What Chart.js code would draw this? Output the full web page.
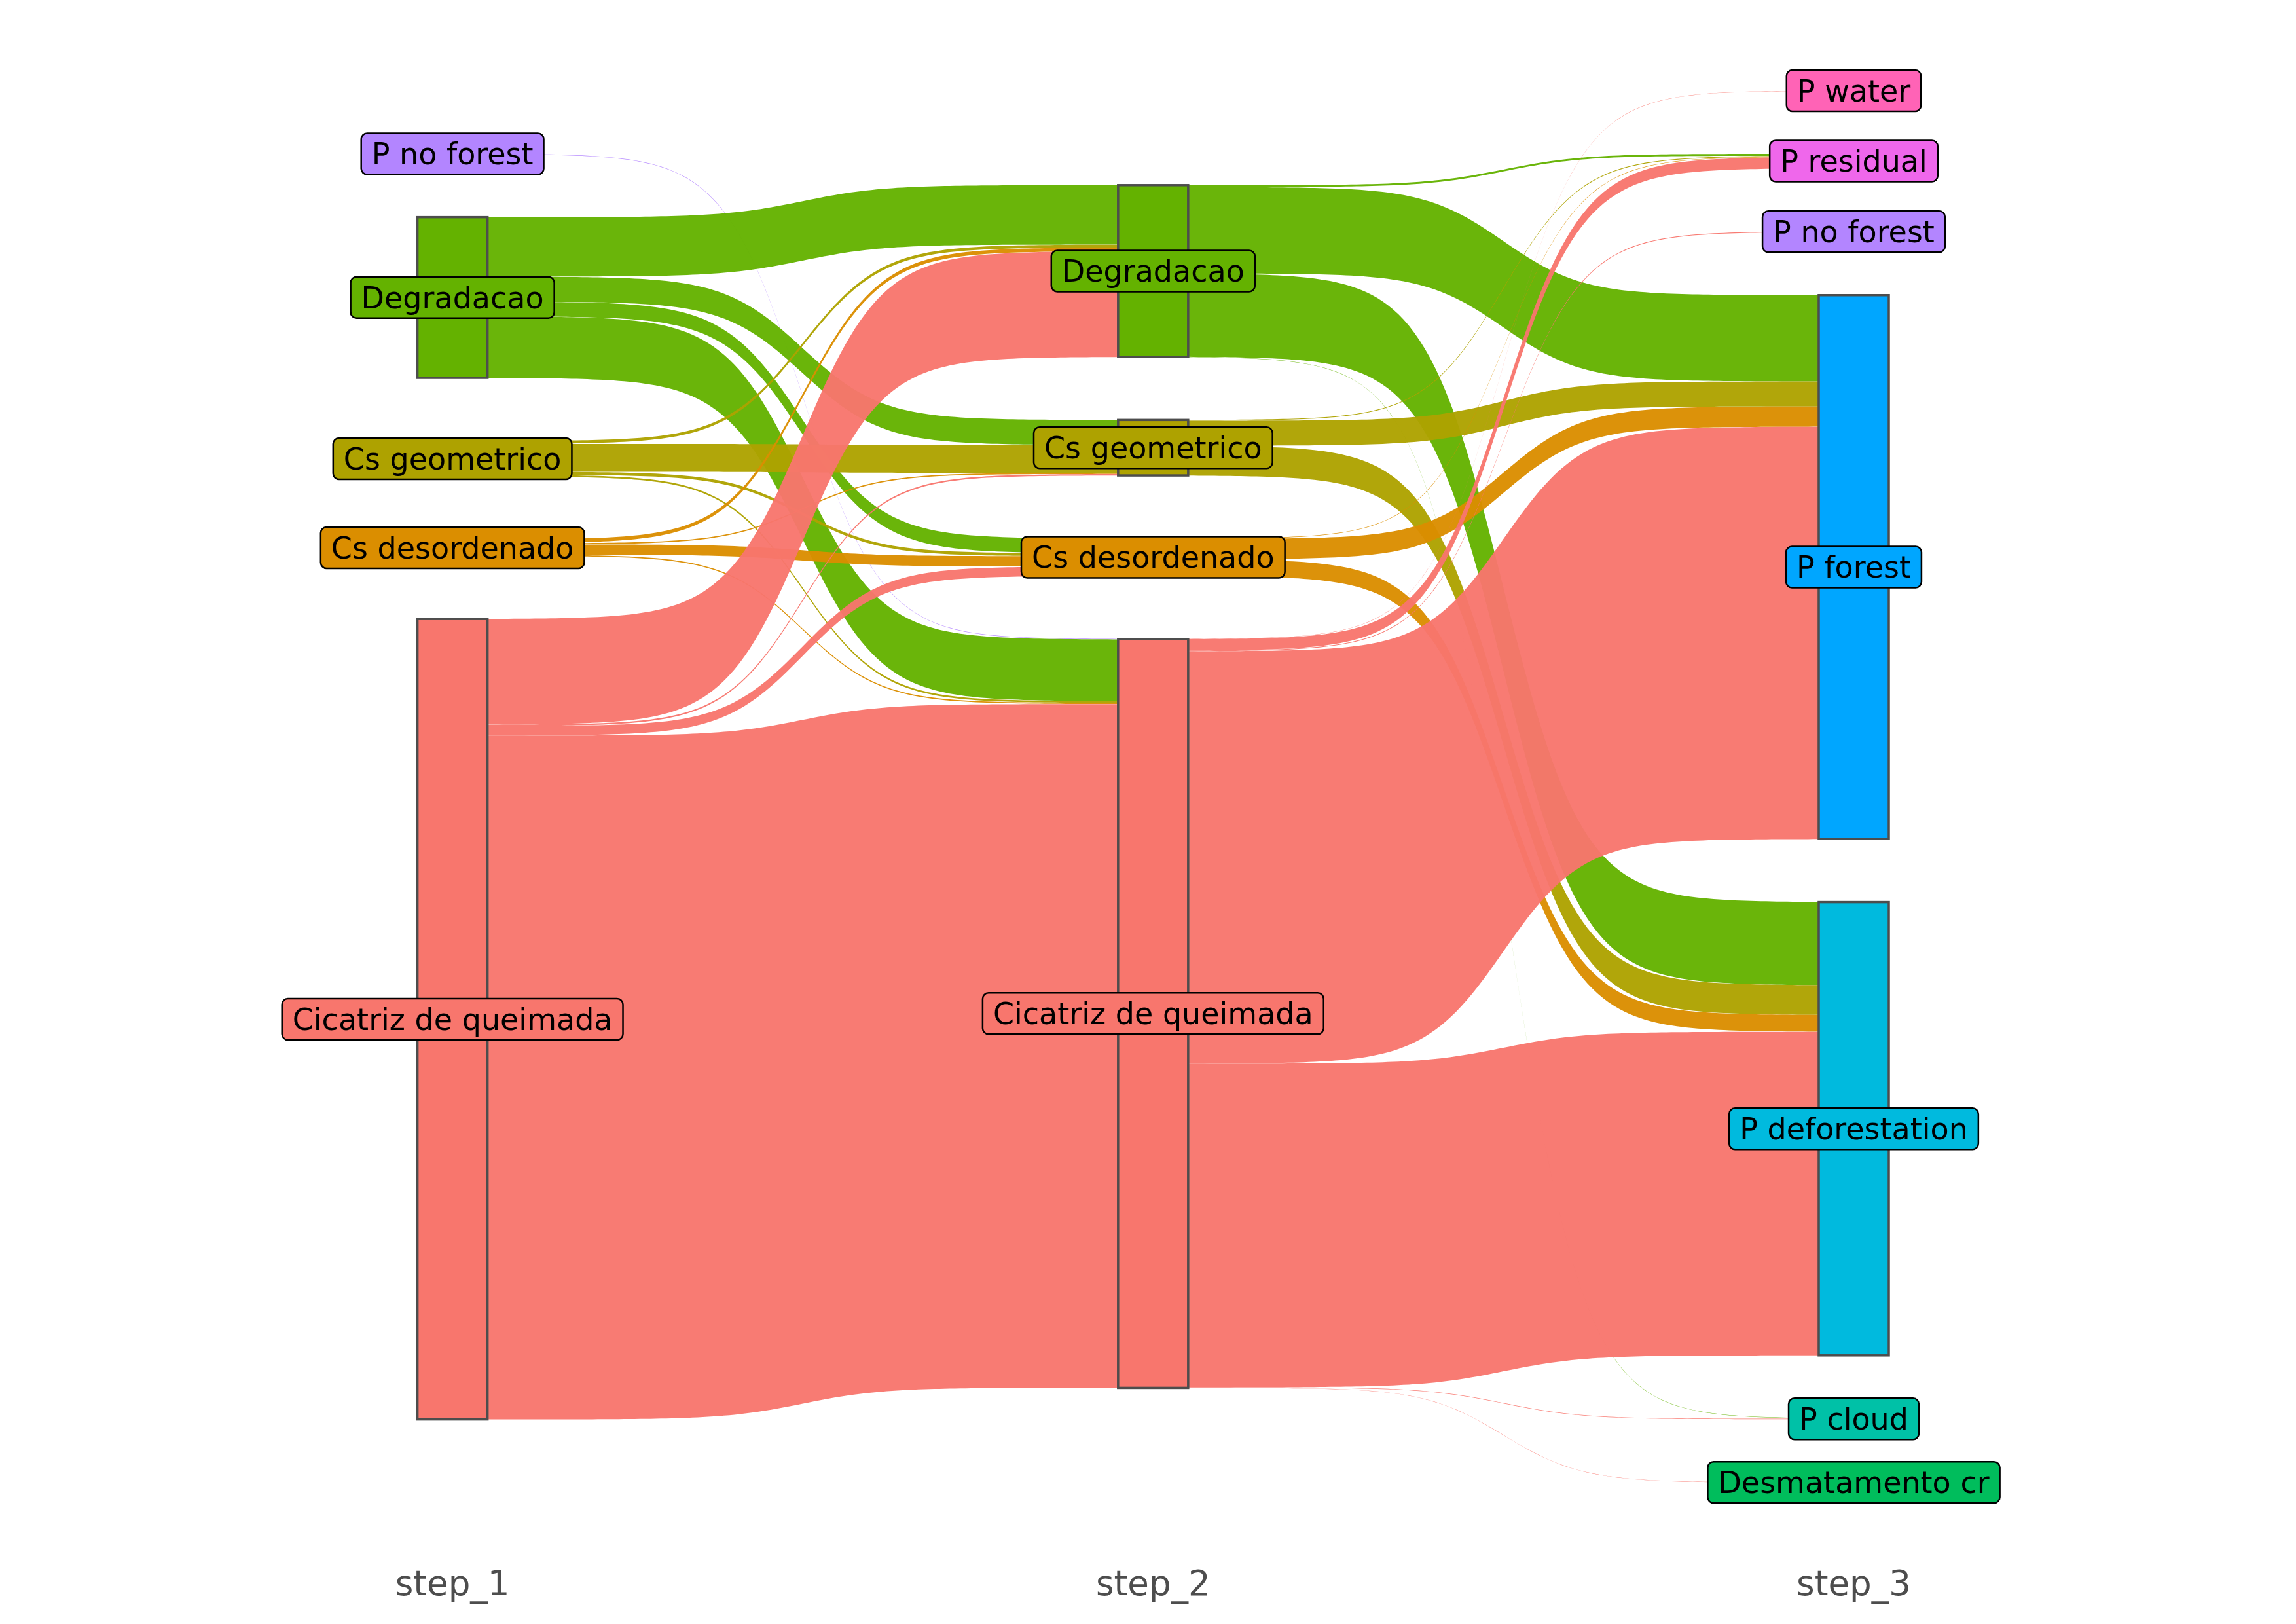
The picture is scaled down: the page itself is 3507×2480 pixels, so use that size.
<!DOCTYPE html>
<html>
<head>
<meta charset="utf-8">
<script src="https://cdn.jsdelivr.net/npm/chart.js@4.4.1/dist/chart.umd.min.js"></script>
<style>
  html, body { margin: 0; padding: 0; background: #ffffff; }
  #wrap { width: 3507px; height: 2480px; }
</style>
</head>
<body>
<div id="wrap"><canvas id="sankeyChart" width="3507" height="2480"></canvas></div>
<script>
// Steps (x axis) and node order from top to bottom
const steps = ['step_1', 'step_2', 'step_3'];
const nodeOrder = ['P water', 'P residual', 'P no forest', 'P forest', 'P deforestation',
    'P cloud', 'Desmatamento cr', 'Degradacao', 'Cs geometrico', 'Cs desordenado', 'Cicatriz de queimada'];

// Flows step_1 -> step_2
const from12 = ['P no forest',
    'Degradacao', 'Degradacao', 'Degradacao', 'Degradacao',
    'Cs geometrico', 'Cs geometrico', 'Cs geometrico', 'Cs geometrico',
    'Cs desordenado', 'Cs desordenado', 'Cs desordenado', 'Cs desordenado',
    'Cicatriz de queimada', 'Cicatriz de queimada', 'Cicatriz de queimada', 'Cicatriz de queimada'];
const to12 = ['Cicatriz de queimada',
    'Degradacao', 'Cs geometrico', 'Cs desordenado', 'Cicatriz de queimada',
    'Degradacao', 'Cs geometrico', 'Cs desordenado', 'Cicatriz de queimada',
    'Degradacao', 'Cs geometrico', 'Cs desordenado', 'Cicatriz de queimada',
    'Degradacao', 'Cs geometrico', 'Cs desordenado', 'Cicatriz de queimada'];
const value12 = [0.3,
    40.5, 17, 10, 42,
    2, 19, 2, 1.2,
    2.5, 0.8, 7, 0.8,
    72, 1, 6.5, 466];

// Flows step_2 -> step_3
const from23 = ['Degradacao', 'Degradacao', 'Degradacao', 'Degradacao',
    'Cs geometrico', 'Cs geometrico', 'Cs geometrico',
    'Cs desordenado', 'Cs desordenado', 'Cs desordenado',
    'Cicatriz de queimada', 'Cicatriz de queimada', 'Cicatriz de queimada', 'Cicatriz de queimada',
    'Cicatriz de queimada', 'Cicatriz de queimada', 'Cicatriz de queimada'];
const to23 = ['P residual', 'P forest', 'P deforestation', 'P cloud',
    'P residual', 'P forest', 'P deforestation',
    'P residual', 'P forest', 'P deforestation',
    'P water', 'P residual', 'P no forest', 'P forest', 'P deforestation', 'P cloud', 'Desmatamento cr'];
const value23 = [1.3, 58.8, 56.7, 0.2,
    0.5, 17, 20.3,
    0.3, 13.8, 11.4,
    0.15, 7.7, 0.5, 281, 220.5, 0.3, 0.15];

// ggplot hue palette
const nodeColors = {
    'Cicatriz de queimada': '#F8766D',
    'Cs desordenado': '#DB8E00',
    'Cs geometrico': '#AEA200',
    'Degradacao': '#64B200',
    'Desmatamento cr': '#00BD5C',
    'P cloud': '#00C1A7',
    'P deforestation': '#00BADE',
    'P forest': '#00A6FF',
    'P no forest': '#B385FF',
    'P residual': '#EF67EB',
    'P water': '#FF63B6'
};

const nodeGap = 43;
const nodeWidth = 0.1;
const smooth = 8;
const flowAlpha = 0.96;

function rgba(hex, a) {
    const n = parseInt(hex.slice(1), 16);
    return 'rgba(' + (n >> 16) + ',' + ((n >> 8) & 255) + ',' + (n & 255) + ',' + a + ')';
}

// Stack nodes per step and place every flow band on its nodes
function buildLayout() {
    const rank = name => nodeOrder.indexOf(name);
    const stageFlows = [
        { from: from12, to: to12, value: value12 },
        { from: from23, to: to23, value: value23 }
    ];
    const columns = steps.map(() => ({}));
    const getNode = (i, name) => {
        if (!columns[i][name]) columns[i][name] = { name: name, inSum: 0, outSum: 0, step: i + 1 };
        return columns[i][name];
    };
    stageFlows.forEach((f, i) => {
        f.from.forEach((src, k) => {
            getNode(i, src).outSum += f.value[k];
            getNode(i + 1, f.to[k]).inSum += f.value[k];
        });
    });

    const nodes = [];
    columns.forEach(col => {
        const list = Object.values(col).sort((a, b) => rank(a.name) - rank(b.name));
        list.forEach(n => { n.value = Math.max(n.inSum, n.outSum); });
        const total = list.reduce((s, n) => s + n.value, 0) + nodeGap * (list.length - 1);
        let y = total / 2;
        list.forEach(n => {
            n.top = y;
            n.bottom = y - n.value;
            n.outCursor = y;
            n.inCursor = y;
            y = n.bottom - nodeGap;
            nodes.push(n);
        });
    });

    const links = [];
    stageFlows.forEach((f, i) => {
        const idx = f.from.map((_, k) => k).sort((a, b) =>
            rank(f.from[a]) - rank(f.from[b]) || rank(f.to[a]) - rank(f.to[b]));
        idx.forEach(k => {
            const s = columns[i][f.from[k]];
            const t = columns[i + 1][f.to[k]];
            const v = f.value[k];
            links.push({
                x0: i + 1 + nodeWidth / 2,
                x1: i + 2 - nodeWidth / 2,
                sTop: s.outCursor, sBot: s.outCursor - v,
                tTop: t.inCursor, tBot: t.inCursor - v,
                color: nodeColors[f.from[k]]
            });
            s.outCursor -= v;
            t.inCursor -= v;
        });
    });
    return { nodes, links };
}

const layout = buildLayout();

function sigmoidPoints(px0, px1, pyA, pyB, n) {
    const pts = [];
    for (let j = 0; j <= n; j++) {
        const t = j / n;
        const u = -smooth + 2 * smooth * t;
        const s = 1 / (1 + Math.exp(-u));
        pts.push([px0 + t * (px1 - px0), pyA + s * (pyB - pyA)]);
    }
    return pts;
}

const sankeyPlugin = {
    id: 'sankeyDraw',
    afterDatasetsDraw(chart) {
        const ctx = chart.ctx;
        const xs = chart.scales.x;
        const ys = chart.scales.y;
        ctx.save();

        // flows
        layout.links.forEach(l => {
            const px0 = xs.getPixelForValue(l.x0);
            const px1 = xs.getPixelForValue(l.x1);
            const top = sigmoidPoints(px0, px1, ys.getPixelForValue(l.sTop), ys.getPixelForValue(l.tTop), 120);
            const bot = sigmoidPoints(px0, px1, ys.getPixelForValue(l.sBot), ys.getPixelForValue(l.tBot), 120).reverse();
            ctx.beginPath();
            top.forEach((p, j) => j ? ctx.lineTo(p[0], p[1]) : ctx.moveTo(p[0], p[1]));
            bot.forEach(p => ctx.lineTo(p[0], p[1]));
            ctx.closePath();
            ctx.fillStyle = rgba(l.color, flowAlpha);
            ctx.fill();
        });

        // nodes
        layout.nodes.forEach(n => {
            const left = xs.getPixelForValue(n.step - nodeWidth / 2);
            const right = xs.getPixelForValue(n.step + nodeWidth / 2);
            const top = ys.getPixelForValue(n.top);
            const bot = ys.getPixelForValue(n.bottom);
            ctx.fillStyle = nodeColors[n.name];
            ctx.fillRect(left, top, right - left, bot - top);
            ctx.lineWidth = 3.5;
            ctx.strokeStyle = '#4D4D4D';
            ctx.strokeRect(left, top, right - left, bot - top);
        });

        // labels
        ctx.font = '46px "DejaVu Sans"';
        ctx.textAlign = 'center';
        ctx.textBaseline = 'alphabetic';
        layout.nodes.forEach(n => {
            const cx = xs.getPixelForValue(n.step);
            const cy = ys.getPixelForValue((n.top + n.bottom) / 2);
            const w = ctx.measureText(n.name).width + 32;
            const h = 63;
            ctx.beginPath();
            ctx.roundRect(cx - w / 2, cy - h / 2, w, h, 9);
            ctx.fillStyle = nodeColors[n.name];
            ctx.fill();
            ctx.lineWidth = 2.5;
            ctx.strokeStyle = '#000000';
            ctx.stroke();
            ctx.fillStyle = '#000000';
            ctx.fillText(n.name, cx, cy + 16.5);
        });
        ctx.restore();
    }
};

const ctx = document.getElementById('sankeyChart').getContext('2d');
new Chart(ctx, {
    type: 'scatter',
    data: { datasets: [] },
    options: {
        responsive: false,
        animation: false,
        devicePixelRatio: 1,
        layout: { padding: { top: 0, bottom: 12, left: 0, right: 0 } },
        scales: {
            x: {
                type: 'linear',
                min: 0.3542,
                max: 3.6312,
                afterBuildTicks: axis => { axis.ticks = steps.map((_, i) => ({ value: i + 1 })); },
                ticks: {
                    callback: (value, index) => steps[index],
                    color: '#4D4D4D',
                    font: { family: 'DejaVu Sans', size: 53 },
                    padding: 14,
                    maxRotation: 0,
                    autoSkip: false
                },
                grid: { display: false },
                border: { display: false }
            },
            y: {
                display: false,
                min: -520.9,
                max: 536.0
            }
        },
        plugins: {
            legend: { display: false },
            tooltip: { enabled: false }
        }
    },
    plugins: [sankeyPlugin]
});
</script>
</body>
</html>
